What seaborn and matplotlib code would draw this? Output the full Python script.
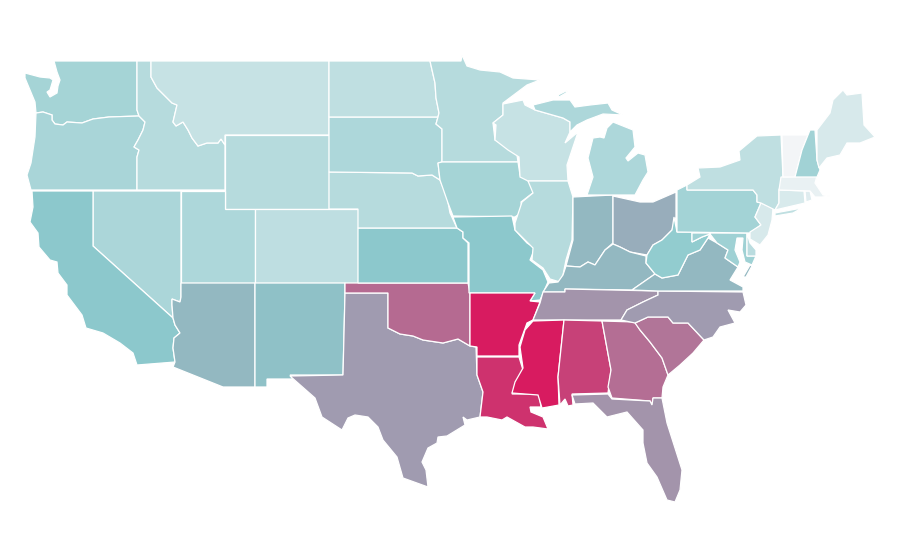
import matplotlib
matplotlib.use("Agg")
import matplotlib.pyplot as plt
import seaborn as sns

sns.set_theme(style="white")

# value per state, 0 = palest, 100 = full magenta
states = ["WA", "OR", "ID", "MT", "WY", "NV", "CA", "UT", "CO", "AZ", "NM", "TX", "OK", "KS", "NE",
          "SD", "ND", "MN", "IA", "MO", "AR", "LA", "WI", "IL", "IN", "OH", "KY", "TN", "MS", "AL",
          "GA", "SC", "NC", "FL", "VA", "WV", "MD", "DE", "PA", "NJ", "NY", "CT", "RI", "MA", "VT",
          "NH", "ME", "MI"]
values = [38, 36, 30, 22, 30, 35, 50, 34, 26, 55, 52, 63, 77, 50, 30,
          34, 25, 30, 38, 50, 100, 93, 22, 30, 55, 58, 55, 65, 100, 89,
          76, 74, 63, 65, 55, 47, 41, 28, 39, 14, 25, 13, 10, 5, 0,
          40, 14, 34]

# state outlines in pixels
outlines = {
    "WA": [[(54, 61), (137, 61), (137, 110), (139, 116), (109, 117), (93, 119), (82, 123), (67, 122), (63, 125),
            (55, 124), (52, 120), (52, 115), (43, 112), (36, 113), (35, 102), (30, 90), (25, 78), (25, 73),
            (40, 77), (50, 78), (53, 80), (50, 90), (47, 92), (50, 97), (57, 93), (58, 86), (60, 80), (57, 72)]],
    "OR": [[(36, 113), (43, 112), (52, 115), (52, 120), (55, 124), (63, 125), (67, 122), (82, 123), (93, 119),
            (109, 117), (139, 116), (145, 122), (143, 130), (138, 140), (134, 147), (139, 150), (137, 157),
            (137, 190), (31, 190), (27, 175), (31, 163), (35, 137)]],
    "ID": [[(137, 61), (151, 61), (151, 77), (157, 88), (167, 98), (172, 103), (177, 105), (173, 122), (176, 126),
            (183, 122), (188, 130), (192, 138), (198, 146), (207, 143), (218, 143), (221, 139), (225, 145),
            (225, 190), (137, 190), (137, 157), (139, 150), (134, 147), (138, 140), (143, 130), (145, 122),
            (139, 116), (137, 110)]],
    "MT": [[(151, 61), (329, 61), (329, 135), (225, 135), (225, 145), (221, 139), (218, 143), (207, 143), (198, 146),
            (192, 138), (188, 130), (183, 122), (176, 126), (173, 122), (177, 105), (172, 103), (167, 98),
            (157, 88), (151, 77)]],
    "WY": [[(225, 135), (329, 135), (329, 209), (225, 209)]],
    "NV": [[(93, 191), (181, 191), (181, 297), (180, 302), (172, 299), (172, 305), (173, 318), (93, 246)]],
    "CA": [[(32, 191), (93, 191), (93, 246), (173, 318), (175, 325), (180, 333), (174, 338), (173, 348), (175, 362),
            (137, 365), (133, 353), (120, 343), (103, 333), (86, 328), (82, 315), (67, 295), (67, 285), (58, 273),
            (57, 262), (50, 260), (39, 247), (38, 233), (30, 222), (33, 207)]],
    "UT": [[(181, 191), (225, 191), (225, 209), (255, 209), (255, 283), (181, 283)]],
    "CO": [[(255, 209), (358, 209), (358, 283), (255, 283)]],
    "AZ": [[(181, 283), (255, 283), (255, 387), (223, 387), (173, 367), (175, 362), (173, 348), (174, 338), (180, 333),
            (175, 325), (173, 318), (172, 305), (172, 299), (180, 302), (181, 297)]],
    "NM": [[(255, 283), (345, 283), (345, 293), (343, 375), (290, 375), (293, 379), (267, 379), (267, 387), (255, 387)]],
    "TX": [[(345, 293), (388, 293), (388, 328), (400, 334), (413, 336), (423, 340), (443, 343), (458, 339), (470, 346),
            (476, 347), (477, 375), (483, 392), (480, 417), (467, 420), (463, 417), (465, 425), (447, 436), (438, 437),
            (437, 443), (428, 448), (422, 462), (426, 470), (428, 487), (403, 478), (397, 457), (383, 440), (378, 427),
            (368, 417), (355, 415), (348, 418), (342, 430), (322, 417), (315, 398), (290, 376), (343, 375)]],
    "OK": [[(345, 283), (468, 283), (470, 293), (470, 346), (458, 339), (443, 343), (423, 340), (413, 336), (400, 334),
            (388, 328), (388, 293), (345, 293)]],
    "KS": [[(358, 228), (457, 228), (463, 232), (463, 238), (468, 243), (468, 283), (358, 283)]],
    "NE": [[(329, 172), (412, 173), (418, 176), (432, 175), (440, 180), (447, 197), (450, 213), (457, 228), (358, 228),
            (358, 209), (329, 209)]],
    "SD": [[(329, 117), (438, 117), (436, 124), (442, 129), (442, 162), (438, 163), (440, 180), (432, 175), (418, 176),
            (412, 173), (329, 172)]],
    "ND": [[(329, 61), (430, 61), (435, 83), (436, 98), (439, 113), (438, 117), (329, 117)]],
    "MN": [[(430, 61), (461, 61), (462, 55), (467, 66), (480, 70), (500, 72), (513, 78), (540, 80), (527, 85), (503, 103),
            (503, 115), (493, 123), (495, 140), (507, 147), (517, 155), (518, 162), (442, 162), (442, 129), (436, 124),
            (438, 117), (439, 113), (436, 98), (435, 83)]],
    "IA": [[(442, 162), (518, 162), (520, 175), (527, 178), (534, 192), (521, 202), (522, 212), (515, 217), (453, 216),
            (448, 203), (440, 180), (438, 163)]],
    "MO": [[(453, 217), (512, 216), (515, 230), (527, 243), (535, 248), (530, 260), (543, 270), (548, 282), (540, 300),
            (530, 301), (535, 293), (469, 293), (469, 243), (463, 238), (463, 232), (457, 228)]],
    "AR": [[(470, 293), (535, 293), (530, 301), (540, 302), (533, 320), (527, 323), (519, 345), (519, 356), (477, 356),
            (477, 347), (470, 346)]],
    "LA": [[(477, 357), (519, 357), (523, 370), (517, 380), (512, 394), (539, 394), (541, 407), (530, 407), (531, 412),
            (543, 417), (548, 429), (533, 427), (525, 427), (507, 417), (502, 420), (487, 417), (480, 417), (483, 392),
            (477, 375)]],
    "WI": [[(503, 104), (523, 100), (525, 105), (535, 110), (563, 118), (570, 122), (570, 132), (565, 143), (578, 132),
            (572, 150), (567, 165), (568, 181), (528, 181), (520, 177), (519, 157), (508, 150), (495, 140), (496, 125),
            (493, 123), (503, 115)]],
    "IL": [[(528, 181), (568, 181), (573, 197), (572, 240), (566, 260), (563, 275), (560, 282), (550, 279), (543, 268),
            (532, 260), (533, 248), (525, 240), (515, 230), (515, 223), (522, 202), (533, 193)]],
    "IN": [[(573, 197), (613, 195), (613, 243), (605, 250), (595, 265), (588, 262), (580, 267), (566, 266), (573, 240)]],
    "OH": [[(613, 196), (640, 202), (653, 202), (676, 192), (676, 217), (672, 230), (662, 240), (653, 245), (647, 255),
            (630, 252), (620, 247), (613, 244)]],
    "KY": [[(613, 244), (620, 247), (630, 252), (646, 256), (646, 263), (655, 274), (632, 290), (565, 289), (565, 292),
            (543, 292), (549, 283), (558, 282), (563, 275), (566, 266), (580, 267), (588, 262), (595, 265), (605, 250)]],
    "TN": [[(543, 292), (565, 292), (565, 289), (658, 291), (658, 295), (643, 302), (627, 310), (621, 320), (533, 320),
            (540, 303)]],
    "MS": [[(533, 321), (564, 320), (558, 377), (559, 405), (548, 407), (542, 408), (538, 395), (512, 393), (515, 382),
            (523, 368), (520, 347), (525, 330)]],
    "AL": [[(564, 320), (602, 321), (611, 370), (608, 393), (572, 394), (573, 405), (568, 406), (565, 399), (560, 405),
            (558, 377)]],
    "GA": [[(602, 321), (635, 322), (640, 330), (650, 342), (662, 358), (668, 375), (663, 387), (662, 398), (653, 398),
            (652, 405), (650, 401), (612, 398), (608, 387), (611, 370)]],
    "SC": [[(635, 323), (648, 317), (668, 317), (673, 323), (688, 323), (704, 340), (693, 353), (680, 365), (668, 375),
            (662, 358), (650, 342), (640, 330)]],
    "NC": [[(658, 295), (658, 291), (743, 292), (746, 305), (740, 312), (728, 310), (735, 323), (720, 327), (713, 337),
            (704, 340), (688, 323), (673, 323), (668, 317), (648, 317), (635, 323), (621, 320), (627, 310), (643, 302)]],
    "FL": [[(572, 395), (608, 394), (612, 399), (650, 401), (652, 405), (653, 398), (662, 398), (667, 423), (682, 470),
            (680, 490), (675, 502), (667, 500), (657, 477), (647, 463), (643, 443), (643, 430), (627, 412), (607, 417),
            (593, 403), (575, 404)]],
    "VA": [[(632, 290), (655, 274), (662, 278), (678, 275), (688, 255), (700, 250), (708, 238), (717, 243), (728, 250),
            (725, 258), (738, 267), (730, 280), (743, 287), (743, 291), (658, 291)],
           [(743, 277), (750, 265), (752, 266), (746, 277)]],
    "WV": [[(646, 263), (647, 255), (653, 245), (662, 240), (672, 230), (674, 217), (677, 232), (692, 232), (692, 242),
            (702, 237), (710, 234), (708, 238), (700, 250), (688, 255), (678, 275), (662, 278), (655, 274)]],
    "MD": [[(692, 233), (747, 233), (747, 256), (756, 256), (752, 265), (745, 262), (742, 250), (743, 238), (737, 238),
            (735, 250), (740, 262), (738, 267), (725, 258), (728, 250), (717, 243), (710, 234), (702, 237), (692, 242)]],
    "DE": [[(747, 233), (750, 243), (756, 250), (756, 256), (747, 256)]],
    "PA": [[(677, 190), (687, 185), (687, 190), (753, 190), (757, 195), (757, 202), (761, 203), (755, 217), (761, 225),
            (750, 233), (677, 232)]],
    "NJ": [[(761, 203), (773, 208), (772, 220), (768, 235), (760, 245), (750, 239), (750, 232), (761, 225), (755, 217)]],
    "NY": [[(687, 190), (687, 185), (700, 177), (698, 168), (720, 167), (740, 160), (739, 151), (757, 136), (781, 135),
            (783, 177), (779, 190), (779, 203), (775, 210), (761, 203), (757, 202), (757, 195), (753, 190)],
           [(775, 213), (802, 208), (793, 213), (775, 216)]],
    "CT": [[(779, 190), (804, 191), (805, 203), (775, 210), (779, 203)]],
    "RI": [[(805, 191), (810, 191), (812, 200), (806, 202)]],
    "MA": [[(781, 177), (817, 176), (815, 183), (823, 195), (830, 196), (822, 197), (815, 197), (810, 191), (779, 190)]],
    "VT": [[(782, 135), (808, 135), (802, 150), (795, 177), (783, 177)]],
    "NH": [[(810, 130), (815, 130), (817, 160), (820, 170), (817, 177), (795, 177), (802, 150)]],
    "ME": [[(817, 130), (830, 113), (833, 100), (843, 90), (847, 95), (862, 93), (864, 125), (875, 137), (860, 143),
            (847, 143), (840, 155), (827, 158), (819, 168), (817, 160)]],
    "MI": [[(533, 105), (553, 100), (570, 100), (575, 107), (590, 105), (608, 103), (612, 110), (623, 115), (603, 114),
            (587, 120), (577, 125), (570, 132), (570, 122), (563, 118), (535, 110)],
           [(613, 122), (633, 130), (635, 147), (626, 158), (628, 161), (638, 153), (645, 155), (648, 172), (643, 180),
            (635, 195), (587, 195), (593, 177), (588, 158), (590, 150), (593, 138), (600, 137), (604, 138), (607, 128)],
           [(558, 95), (568, 90), (566, 93), (559, 97)]],
}


def main():
    cmap = sns.blend_palette(["#f3f5f7", "#8cc9cc", "#d81b60"], as_cmap=True)

    fig, ax = plt.subplots(figsize=(9, 5.6), dpi=100)
    fig.subplots_adjust(left=0, right=1, top=1, bottom=0)

    for state, value in zip(states, values):
        for part in outlines[state]:
            xs, ys = zip(*part)
            ax.fill(xs, ys, facecolor=cmap(value / 100), edgecolor="white", linewidth=0.9)

    ax.set_xlim(0, 900)
    ax.set_ylim(560, 0)
    ax.set_xticks([])
    ax.set_yticks([])
    sns.despine(ax=ax, left=True, bottom=True)
    fig.savefig("out.png", dpi=100)
    plt.close(fig)


if __name__ == "__main__":
    main()
